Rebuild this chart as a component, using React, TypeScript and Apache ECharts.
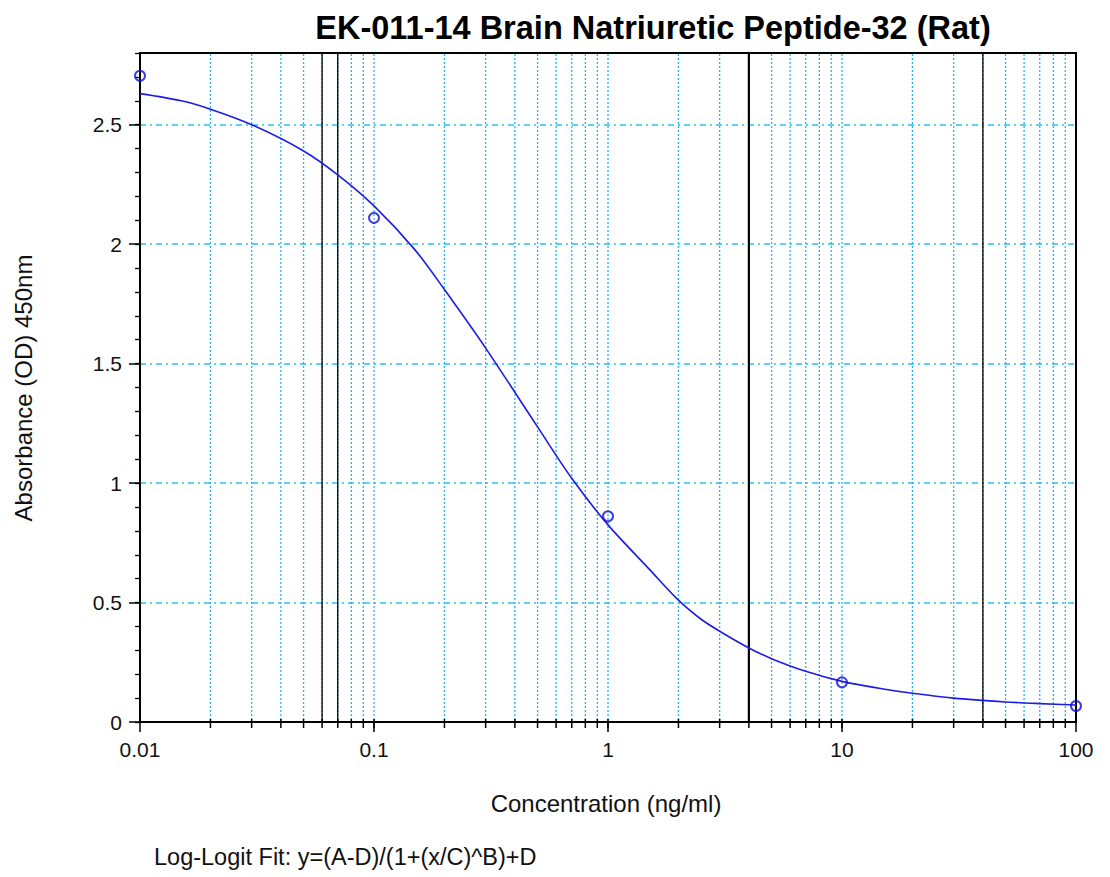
import React, { useEffect, useRef } from "react";
import * as echarts from "echarts";

const TITLE = "EK-011-14 Brain Natriuretic Peptide-32 (Rat)";
const X_NAME = "Concentration (ng/ml)";
const Y_NAME = "Absorbance (OD) 450nm";
const FOOTNOTE = "Log-Logit Fit: y=(A-D)/(1+(x/C)^B)+D";

const X_MIN = 0.01;
const X_MAX = 100;
const Y_MIN = 0;
const Y_MAX = 2.8;

// measured standards
const stdConc = [0.01, 0.1, 1, 10, 100];
const stdOD = [2.705, 2.11, 0.861, 0.166, 0.067];

// fitted curve
const curveConc = [0.01, 0.015, 0.02, 0.03, 0.05, 0.07, 0.1, 0.15, 0.2, 0.3, 0.5, 0.7, 1, 1.5, 2, 2.5, 3, 4, 5, 7, 10, 15, 20, 30, 50, 70, 100];
const curveOD = [2.63, 2.6, 2.565, 2.5, 2.39, 2.29, 2.16, 1.975, 1.81, 1.565, 1.235, 1.02, 0.825, 0.64, 0.51, 0.43, 0.38, 0.31, 0.265, 0.212, 0.17, 0.138, 0.12, 0.1, 0.084, 0.077, 0.071];

// log grid lines (cyan dotted)
const gridXs = [
  0.02, 0.03, 0.04, 0.05, 0.06, 0.07, 0.08, 0.09, 0.1,
  0.2, 0.3, 0.4, 0.5, 0.6, 0.7, 0.8, 0.9, 1,
  2, 3, 4, 5, 6, 7, 8, 9, 10,
  20, 30, 40, 50, 60, 70, 80, 90,
];

// black vertical reference lines
const blackXs = [0.06, 0.07, 4, 40];
const blackWidths = [1.3, 1.3, 2.2, 1.3];

const xTickLabels: Record<string, string> = {
  "0.01": "0.01",
  "0.1": "0.1",
  "1": "1",
  "10": "10",
  "100": "100",
};

const FONT = "'Liberation Sans', Arial, sans-serif";

export default function App() {
  const ref = useRef<HTMLDivElement>(null);

  useEffect(() => {
    if (!ref.current) return;
    const chart = echarts.init(ref.current, null, { renderer: "svg" });

    const option: any = {
      animation: false,
      backgroundColor: "#ffffff",
      grid: {
        left: 140,
        right: 34,
        top: 53,
        bottom: 155,
        show: true,
        borderColor: "#000",
        borderWidth: 2,
        backgroundColor: "transparent",
      },
      xAxis: {
        type: "log",
        logBase: 10,
        min: X_MIN,
        max: X_MAX,
        axisLine: { show: true, lineStyle: { color: "#000", width: 2 } },
        axisTick: { show: true, length: 10, lineStyle: { color: "#000", width: 1.5 } },
        axisLabel: {
          color: "#111",
          fontFamily: FONT,
          fontSize: 21,
          margin: 17,
          formatter: (v: number) => {
            const k = String(Number(v.toPrecision(3)));
            return xTickLabels[k] ?? k;
          },
        },
        splitLine: { show: false },
        minorTick: { show: false },
      },
      yAxis: [
        {
          type: "value",
          min: Y_MIN,
          max: Y_MAX,
          interval: 0.5,
          axisLine: { show: true, lineStyle: { color: "#000", width: 2 } },
          axisTick: { show: true, length: 11, lineStyle: { color: "#000", width: 1.5 } },
          axisLabel: {
            color: "#111",
            fontFamily: FONT,
            fontSize: 21,
            margin: 18,
            showMaxLabel: false,
          },
          splitLine: {
            show: true,
            showMinLine: false,
            showMaxLine: false,
            lineStyle: { color: "#22c4f2", width: 1.5, type: [6, 4, 2, 4] },
          },
        },
        {
          type: "value",
          min: Y_MIN,
          max: Y_MAX,
          interval: 0.1,
          position: "left",
          offset: 0,
          axisLine: { show: false },
          axisTick: { show: true, length: 5, lineStyle: { color: "#000", width: 1.3 } },
          axisLabel: { show: false },
          splitLine: { show: false },
        },
      ],
      series: [
        {
          type: "custom",
          name: "grid",
          xAxisIndex: 0,
          yAxisIndex: 0,
          clip: false,
          silent: true,
          z: 1,
          data: gridXs.map((x) => [x, 0]),
          renderItem: (_p: any, api: any) => {
            const x = api.value(0);
            const top = api.coord([x, Y_MAX]);
            const bot = api.coord([x, Y_MIN]);
            return {
              type: "group",
              children: [
                {
                  type: "line",
                  shape: { x1: bot[0], y1: bot[1] - 2, x2: top[0], y2: top[1] + 1 },
                  style: { stroke: "#25b4ea", lineWidth: 1.3, lineDash: [2, 2] },
                },
                {
                  type: "line",
                  shape: { x1: bot[0], y1: bot[1] - 3, x2: bot[0], y2: bot[1] + 6 },
                  style: { stroke: "#000", lineWidth: 1.5 },
                },
              ],
            };
          },
        },
        {
          type: "custom",
          name: "reference",
          xAxisIndex: 0,
          yAxisIndex: 0,
          silent: true,
          z: 2,
          data: blackXs.map((x, i) => [x, blackWidths[i]]),
          renderItem: (_p: any, api: any) => {
            const x = api.value(0);
            const w = api.value(1);
            const top = api.coord([x, Y_MAX]);
            const bot = api.coord([x, Y_MIN]);
            return {
              type: "line",
              shape: { x1: bot[0], y1: bot[1], x2: top[0], y2: top[1] },
              style: { stroke: "#000", lineWidth: w },
            };
          },
        },
        {
          type: "line",
          name: "fit",
          data: curveConc.map((x, i) => [x, curveOD[i]]),
          smooth: 0.3,
          showSymbol: false,
          symbol: "none",
          lineStyle: { color: "#1c1ce8", width: 1.6 },
          z: 5,
        },
        {
          type: "scatter",
          name: "standards",
          data: stdConc.map((x, i) => [x, stdOD[i]]),
          symbol: "circle",
          symbolSize: 10,
          clip: false,
          itemStyle: { color: "rgba(255,255,255,0)", borderColor: "#1010d8", borderWidth: 2 },
          z: 6,
        },
      ],
      graphic: [
        {
          type: "text",
          x: 653,
          y: 28,
          style: {
            text: TITLE,
            font: `bold 32.5px ${FONT}`,
            fill: "#000",
            align: "center",
            verticalAlign: "middle",
          },
        },
        {
          type: "text",
          x: 606,
          y: 803,
          style: {
            text: X_NAME,
            font: `24px ${FONT}`,
            fill: "#111",
            align: "center",
            verticalAlign: "middle",
          },
        },
        {
          type: "text",
          x: 23,
          y: 388,
          rotation: Math.PI / 2,
          style: {
            text: Y_NAME,
            font: `24px ${FONT}`,
            fill: "#111",
            align: "center",
            verticalAlign: "middle",
          },
        },
        {
          type: "text",
          x: 154,
          y: 857,
          style: {
            text: FOOTNOTE,
            font: `23.5px ${FONT}`,
            fill: "#111",
            align: "left",
            verticalAlign: "middle",
          },
        },
      ],
    };

    chart.setOption(option);
    return () => chart.dispose();
  }, []);

  return (
    <div
      ref={ref}
      style={{ position: "absolute", left: 0, top: 0, width: 1110, height: 877, background: "#fff" }}
    />
  );
}
